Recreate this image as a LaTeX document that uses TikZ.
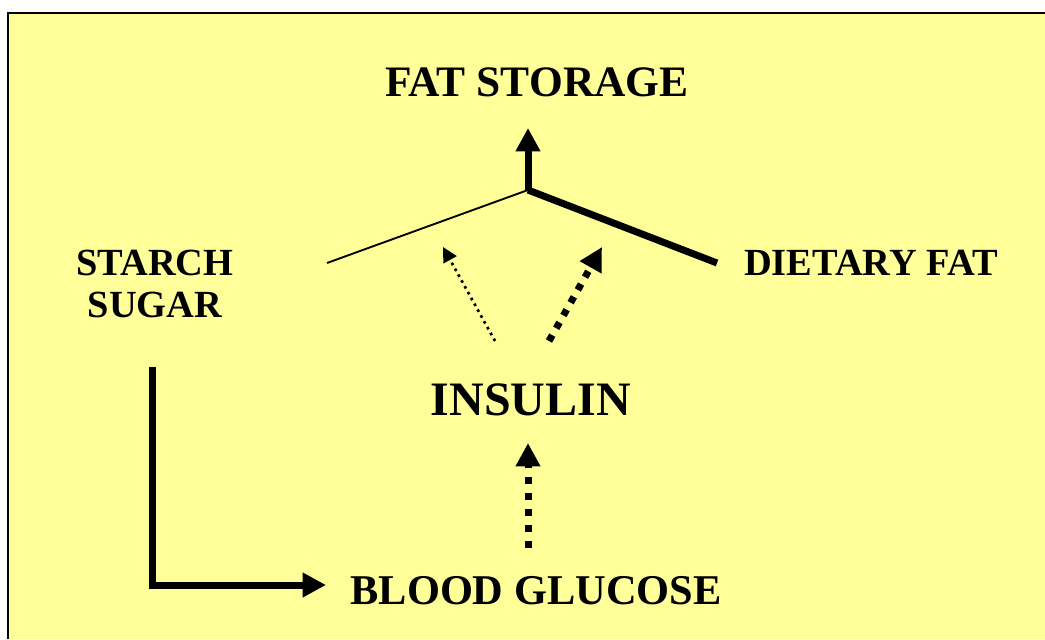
\documentclass[tikz,border=0pt]{standalone}
\usepackage{fontspec}
\setmainfont{Liberation Serif}
\usetikzlibrary{arrows.meta}
\definecolor{paleyellow}{HTML}{FFFF99}

\begin{document}
\begin{tikzpicture}[x=0.75pt, y=-0.75pt,
    label/.style={font=\bfseries\fontsize{28.8}{31}\selectfont, align=center, inner sep=0pt},
    biglabel/.style={font=\bfseries\fontsize{31.8}{36}\selectfont, inner sep=0pt},
    heavy/.style={line width=5.25pt},
    bigtip/.style={-{Triangle[length=17.5pt, width=17.5pt]}}]
          \useasboundingbox (0, 0) rectangle (1045, 639);
          \fill[white] (0, 0) rectangle (1045, 639);
          \fill[paleyellow] (8, 13) rectangle (1045, 639);
          \draw[line width=1.2pt] (8, 639) -- (8, 13) -- (1045, 13);

          \node[biglabel, font=\bfseries\fontsize{32.6}{36}\selectfont] (fat) at (537, 82) {FAT STORAGE};
          \node[label] (starch) at (155, 284) {STARCH\\SUGAR};
          \node[label] (dietary) at (871, 263) {DIETARY FAT};
          \node[font=\bfseries\fontsize{36}{40}\selectfont, inner sep=0pt] (insulin) at (531, 400) {INSULIN};
          \node[biglabel] (glucose) at (536, 591) {BLOOD GLUCOSE};

          \coordinate (junc) at (528, 190);
          \coordinate (up) at (528, 128);
          \coordinate (sugarend) at (327, 263);
          \coordinate (fatend) at (717, 263);
          \coordinate (corner) at (152, 585);
          \coordinate (top) at (152, 367);
          \coordinate (glutip) at (326, 585);
          \coordinate (dotA) at (495, 341);
          \coordinate (dotAtip) at (443, 247);
          \coordinate (dotB) at (549, 341);
          \coordinate (dotBtip) at (602, 247);
          \coordinate (insbase) at (528, 548);
          \coordinate (instip) at (528, 443);

          \draw[heavy, bigtip] (junc) -- (up);
          \draw[line width=1.4pt] (sugarend) -- (junc);
          \draw[heavy, line join=bevel] (fatend) -- (junc);
          \draw[line width=2pt, dash pattern=on 2pt off 3pt, -{Triangle[length=11pt, width=11pt]}] (dotA) -- (dotAtip);
          \draw[heavy, dash pattern=on 5pt off 6pt, bigtip] (dotB) -- (dotBtip);
          \draw[heavy, dash pattern=on 5.25pt off 6.75pt, bigtip] (insbase) -- (instip);
          \draw[heavy, bigtip] (top) -- (corner) -- (glutip);

      \end{tikzpicture}
\end{document}
